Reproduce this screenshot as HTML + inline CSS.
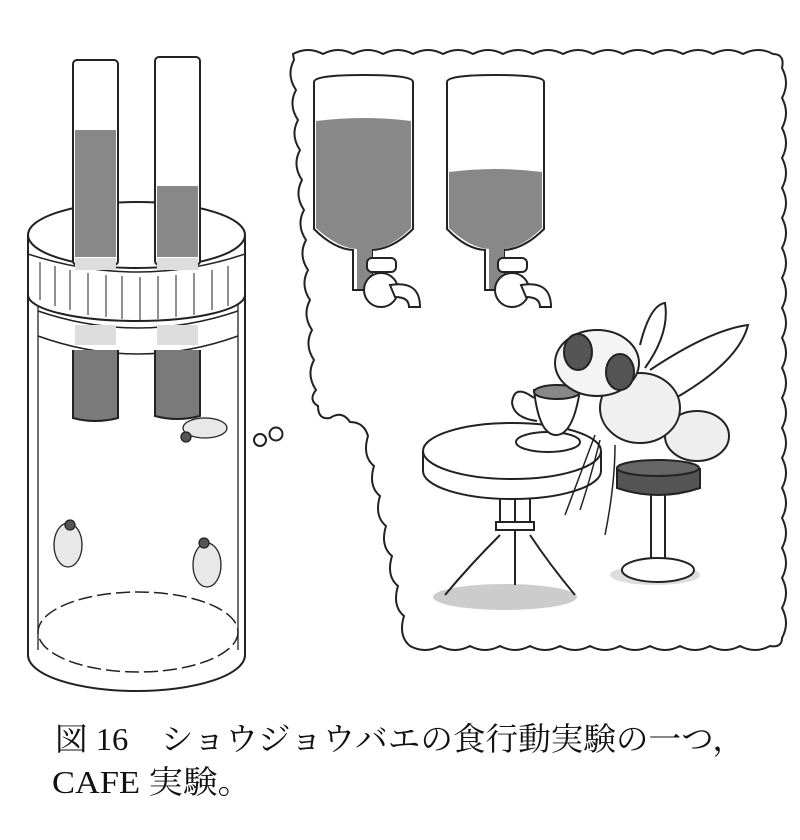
<!DOCTYPE html>
<html><head><meta charset="utf-8"><style>
html,body{margin:0;padding:0;background:#fff;}
svg{display:block}
</style></head><body>
<svg width="800" height="840" viewBox="0 0 800 840" xmlns="http://www.w3.org/2000/svg">
<rect width="800" height="840" fill="#fff"/>
<g stroke="#222" stroke-width="2" fill="none">
<!-- thought bubble -->
<path d="M293,54
q15,-8 30,0 q15,-8 30,0 q15,-8 30,0 q15,-8 30,0 q15,-8 30,0 q15,-8 30,0 q15,-8 30,0 q15,-8 30,0
q15,-8 30,0 q15,-8 30,0 q15,-8 30,0 q15,-8 30,0 q15,-8 30,0 q15,-8 30,0 q15,-8 30,0 q15,-8 30,0
q12,0 9,14
q8,15 0,30 q8,15 0,30 q8,15 0,30 q8,15 0,30 q8,15 0,30 q8,15 0,30 q8,15 0,30 q8,15 0,30 q8,15 0,30 q8,15 0,30
q8,15 0,30 q8,15 0,30 q8,15 0,30 q8,15 0,30 q8,15 0,30 q8,15 0,30 q8,15 0,30 q8,15 0,30 q8,15 0,30
q0,10 -12,8
q-15,8 -30,0 q-15,8 -30,0 q-15,8 -30,0 q-15,8 -30,0 q-15,8 -30,0 q-15,8 -30,0
q-15,8 -30,0 q-15,8 -30,0 q-15,8 -30,0 q-15,8 -30,0 q-15,8 -30,0 q-15,8 -30,0
q-12,-10 -6,-30 q-12,-10 -6,-30 q-12,-10 -6,-30 q-12,-10 -6,-30 q-12,-10 -6,-30 q-12,-10 -6,-30 q-12,-10 -6,-30
q-4,-14 -18,-14 q-8,-12 -20,-4 q-12,2 -12,-12 q-10,-6 -2,-16
q-10,-15 -2,-30 q-10,-15 -2,-30 q-10,-15 -2,-30 q-10,-15 -2,-30 q-10,-15 -2,-30 q-10,-15 -2,-30
q-10,-15 -2,-30 q-10,-15 -2,-30 q-10,-15 -2,-30 q-10,-15 -2,-30 q-10,-15 -2,-30 Z" fill="#fff"/>
<circle cx="276" cy="434" r="6.5"/><circle cx="260" cy="440" r="6"/>
<!-- cylinder body -->
<path d="M28,240 L28,655 M245,240 L245,655"/>
<path d="M38,300 L38,650 M238,300 L238,650" stroke-width="1.3"/>
<path d="M28,655 A108.5,36 0 0 0 245,655"/>
<ellipse cx="138" cy="632" rx="100" ry="40" stroke-width="1.5" stroke-dasharray="14,5"/>
<path d="M38,311 Q138,345 238,311 M38,336 Q138,372 238,336" stroke-width="1.5"/>
<!-- cap -->
<path d="M28,235 L28,295 A108.5,26 0 0 0 245,295 L245,235" fill="#fff"/>
<ellipse cx="136.5" cy="235" rx="108.5" ry="33" fill="#fff"/>
<path d="M28,254 Q138,290 245,254" stroke-width="1.5"/>
<g stroke-width="1">
<path d="M40,262 v38 M55,266 v40 M70,270 v40 M88,273 v42 M106,275 v42 M122,276 v43 M140,277 v43 M158,276 v43 M176,275 v42 M194,273 v42 M212,270 v40 M228,266 v40"/>
</g>
<!-- tubes -->
<rect x="73" y="60" width="45" height="205" rx="4" fill="#fff"/>
<rect x="75" y="130" width="41" height="127" fill="#888" stroke="none"/>
<rect x="155" y="57" width="45" height="208" rx="4" fill="#fff"/>
<rect x="157" y="186" width="41" height="71" fill="#888" stroke="none"/>
<rect x="75" y="258" width="41" height="12" fill="#ddd" stroke="none"/>
<rect x="157" y="258" width="41" height="12" fill="#ddd" stroke="none"/>
<rect x="75" y="325" width="41" height="20" fill="#ddd" stroke="none"/>
<rect x="157" y="325" width="41" height="20" fill="#ddd" stroke="none"/>
<path d="M73,350 v68 q22,6 45,0 v-68" fill="#7a7a7a"/>
<path d="M155,350 v66 q22,6 45,0 v-66" fill="#7a7a7a"/>
<!-- flies on cylinder -->
<g fill="#e8e8e8" stroke-width="1.3">
<ellipse cx="205" cy="428" rx="22" ry="10"/><circle cx="186" cy="437" r="5" fill="#555"/>
<ellipse cx="68" cy="545" rx="14" ry="22"/><circle cx="70" cy="525" r="5" fill="#555"/>
<ellipse cx="207" cy="565" rx="14" ry="22"/><circle cx="204" cy="543" r="5" fill="#555"/>
</g>
<!-- bottles -->
<path d="M314,82 q0,-7 50,-7 q49,0 49,7 v147 q-20,20 -41,21 v40 h-19 v-40 q-19,-1 -39,-21 z" fill="#fff"/>
<path d="M316,121 q48,-6 95,0 v107 q-20,20 -39,21 v40 h-15 v-40 q-19,-1 -41,-21 z" fill="#888" stroke="none"/>
<path d="M447,82 q0,-7 49,-7 q48,0 48,7 v147 q-20,20 -40,21 v40 h-19 v-40 q-19,-1 -38,-21 z" fill="#fff"/>
<path d="M449,172 q47,-6 93,0 v56 q-20,20 -38,21 v40 h-15 v-40 q-19,-1 -40,-21 z" fill="#888" stroke="none"/>
<g fill="#fff">
<rect x="367" y="258" width="29" height="14" rx="5"/>
<circle cx="381" cy="290" r="17"/>
<path d="M390,285 q30,-5 30,22 h-11 q0,-10 -14,-10 z"/>
<rect x="498" y="258" width="29" height="14" rx="5"/>
<circle cx="512" cy="290" r="17"/>
<path d="M521,285 q30,-5 30,22 h-11 q0,-10 -14,-10 z"/>
</g>
<!-- shadows -->
<ellipse cx="505" cy="597" rx="72" ry="13" fill="#ccc" stroke="none"/>
<ellipse cx="655" cy="575" rx="45" ry="10" fill="#ddd" stroke="none"/>
<!-- table -->
<path d="M500,485 v45 M530,485 v45 M515,485 v100 M500,535 q-30,30 -55,60 M530,535 q20,30 45,60"/>
<rect x="496" y="522" width="38" height="8" fill="#fff"/>
<path d="M423,451 v20 A89,28 0 0 0 601,471 v-20" fill="#fff"/>
<ellipse cx="512" cy="451" rx="89" ry="28" fill="#fff"/>
<!-- stool -->
<rect x="651" y="490" width="14" height="70" fill="#fff"/>
<ellipse cx="658" cy="570" rx="36" ry="12" fill="#fff"/>
<path d="M617,468 v20 q41,14 83,0 v-20" fill="#555"/>
<ellipse cx="658" cy="468" rx="41" ry="8" fill="#666"/>
<!-- cup -->
<ellipse cx="548" cy="442" rx="32" ry="10" fill="#fff"/>
<path d="M534,390 q5,45 22,45 q17,0 24,-45 z" fill="#fff"/>
<ellipse cx="557" cy="392" rx="23" ry="7" fill="#888"/>
<path d="M534,398 q-20,-15 -22,5 q2,15 25,18" />
<!-- fly -->
<path d="M640,345 q10,-40 25,-42 q5,30 -20,65 M650,370 q60,-40 98,-45 q-10,40 -85,80" fill="#fff"/>
<ellipse cx="697" cy="436" rx="32" ry="25" fill="#eee"/>
<ellipse cx="640" cy="408" rx="40" ry="35" fill="#f0f0f0"/>
<ellipse cx="597" cy="363" rx="42" ry="33" fill="#f4f4f4"/>
<ellipse cx="578" cy="352" rx="14" ry="18" fill="#555"/><ellipse cx="620" cy="372" rx="14" ry="18" fill="#555"/>
<path d="M600,440 q-10,40 -20,70 M615,445 q0,40 -10,90 M595,435 q-15,40 -30,80" stroke-width="1.5"/>
</g>
<g font-family="'Liberation Serif','Noto Serif CJK JP','Noto Serif CJK SC',serif" fill="#111" font-size="32">
<text x="55" y="750" textLength="690" lengthAdjust="spacingAndGlyphs">図 16　ショウジョウバエの食行動実験の一つ，</text>
<text x="52" y="793" textLength="200" lengthAdjust="spacingAndGlyphs">CAFE 実験。</text>
</g>
</svg>
</body></html>
